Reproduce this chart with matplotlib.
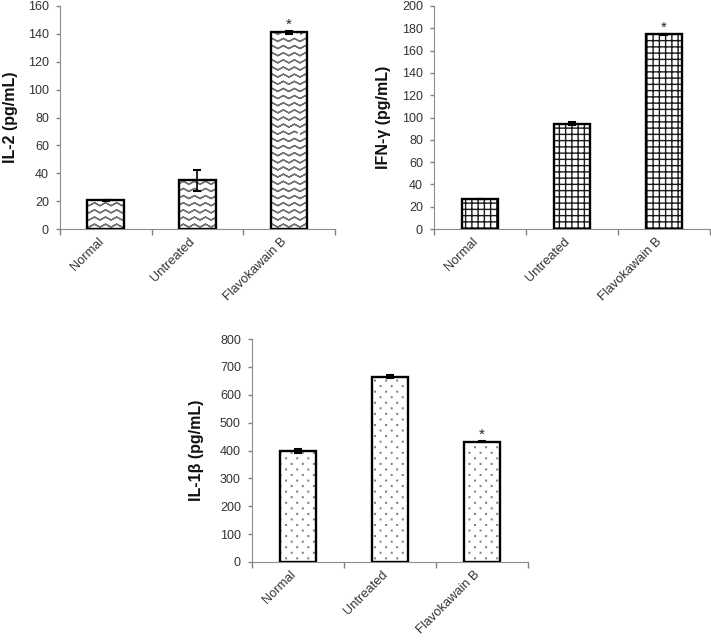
import warnings
import numpy as np
import matplotlib
matplotlib.use('Agg')
import matplotlib.pyplot as plt
from matplotlib import hatch as mhatch
from matplotlib.path import Path

warnings.filterwarnings('ignore')

groups = ['Normal', 'Untreated', 'Flavokawain B']
il2 = [20.5, 35.0, 141.0]
il2_err = [0.5, 7.5, 1.0]
ifng = [27.0, 94.5, 174.5]
ifng_err = [0.3, 1.5, 0.5]
il1b = [398.0, 665.0, 432.0]
il1b_err = [8.0, 5.0, 3.0]
star_group = 2  # Flavokawain B gets the asterisk


class ZigzagHatch(mhatch.HatchPatternBase):
    '''Wavy rows, traced forward then back so the fill has no area.'''
    rows, teeth, amp = 14, 9, 0.03

    def __init__(self, hatch, density):
        n = 2 * self.teeth + 1
        self.num_vertices = self.rows * (2 * n - 1) if 'z' in hatch else 0

    def set_vertices_and_codes(self, vertices, codes):
        n = 2 * self.teeth + 1
        xs = np.linspace(0, 1, n)
        ys = (np.arange(n) % 2) * self.amp
        xs = np.concatenate([xs, xs[-2::-1]])
        ys = np.concatenate([ys, ys[-2::-1]])
        m = xs.size
        for i in range(self.rows):
            vertices[i*m:(i+1)*m, 0] = xs
            vertices[i*m:(i+1)*m, 1] = ys + (i + 0.2) / self.rows
            codes[i*m:(i+1)*m] = Path.LINETO
            codes[i*m] = Path.MOVETO


class GridHatch(mhatch.HatchPatternBase):
    lines = 16

    def __init__(self, hatch, density):
        self.num_vertices = 4 * self.lines if 'g' in hatch else 0

    def set_vertices_and_codes(self, vertices, codes):
        k = self.lines
        pos = (np.arange(k) + 0.5) / k
        vertices[0:2*k:2] = np.column_stack([np.zeros(k), pos])
        vertices[1:2*k:2] = np.column_stack([np.ones(k), pos])
        vertices[2*k::2] = np.column_stack([pos, np.zeros(k)])
        vertices[2*k+1::2] = np.column_stack([pos, np.ones(k)])
        codes[0::2] = Path.MOVETO
        codes[1::2] = Path.LINETO


class DotHatch(mhatch.HatchPatternBase):
    cols, size = 9, 0.003

    def __init__(self, hatch, density):
        self.num_vertices = 5 * self.cols * 2 * self.cols if 'd' in hatch else 0

    def set_vertices_and_codes(self, vertices, codes):
        sq = np.array([[-1, -1], [1, -1], [1, 1], [-1, 1], [-1, -1]]) * self.size
        sq_codes = [Path.MOVETO, Path.LINETO, Path.LINETO, Path.LINETO, Path.CLOSEPOLY]
        cursor = 0
        for r in range(2 * self.cols):
            y = (r + 0.5) / (2 * self.cols)
            for c in range(self.cols):
                x = (c + 0.25 + 0.5 * (r % 2)) / self.cols
                vertices[cursor:cursor+5] = sq + [x, y]
                codes[cursor:cursor+5] = sq_codes
                cursor += 5


mhatch._hatch_types.extend([ZigzagHatch, GridHatch, DotHatch])

plt.rcParams['font.family'] = ['Liberation Sans', 'DejaVu Sans']
plt.rcParams['hatch.linewidth'] = 1.0

W, H = 711, 640
fig = plt.figure(figsize=(W / 100, H / 100), dpi=100)

# values, errors, label, ymax, step, hatch, hatch colour, pixel box, label x
panels = [
    (il2, il2_err, 'IL-2 (pg/mL)', 160, 20, 'z', '0.45', (60, 6, 335, 229), -0.153),
    (ifng, ifng_err, 'IFN-γ (pg/mL)', 200, 20, 'g', '0.1', (434, 6, 710, 229), -0.156),
    (il1b, il1b_err, 'IL-1β (pg/mL)', 800, 100, 'd', '0.5', (252, 339, 528, 562), -0.174),
]

x = np.arange(len(groups))
for vals, err, label, ymax, step, hatch, hcol, box, lx in panels:
    x0, y0, x1, y1 = box
    ax = fig.add_axes([x0 / W, 1 - y1 / H, (x1 - x0) / W, (y1 - y0) / H])
    ax.bar(x, vals, 0.4, color='white', edgecolor=hcol, hatch=hatch,
           linewidth=0, zorder=2)
    ax.bar(x, vals, 0.4, fill=False, edgecolor='black', linewidth=1.7, zorder=3)
    ax.errorbar(x, vals, yerr=err, fmt='none', ecolor='black', elinewidth=1.2,
                capsize=3, capthick=1.5, zorder=4)
    ax.annotate('*', (x[star_group], vals[star_group] + err[star_group]),
                xytext=(0, 1.5), textcoords='offset points', ha='center',
                va='baseline', fontsize=11, color='#222222')

    ax.set_xlim(-0.5, len(groups) - 0.5)
    ax.set_ylim(0, ymax)
    ax.set_yticks(np.arange(0, ymax + 1, step))
    ax.set_xticks(x)
    ax.set_xticklabels(groups, rotation=45, ha='right', fontsize=9.3, color='#333333')
    ax.set_xticks(np.arange(len(groups) + 1) - 0.5, minor=True)
    ax.tick_params(axis='x', which='major', length=0, pad=4.5)
    ax.tick_params(axis='x', which='minor', length=4, width=1, color='0.5')
    ax.tick_params(axis='y', length=3, width=1, color='0.5', labelsize=9,
                   labelcolor='#333333', pad=5)
    for s in ['top', 'right']:
        ax.spines[s].set_visible(False)
    for s in ['left', 'bottom']:
        ax.spines[s].set_color('0.55')
    ax.set_ylabel(label, fontsize=11.5, fontweight='bold', color='#111111')
    ax.yaxis.set_label_coords(lx, 0.5)

fig.savefig('out.png', dpi=100)
